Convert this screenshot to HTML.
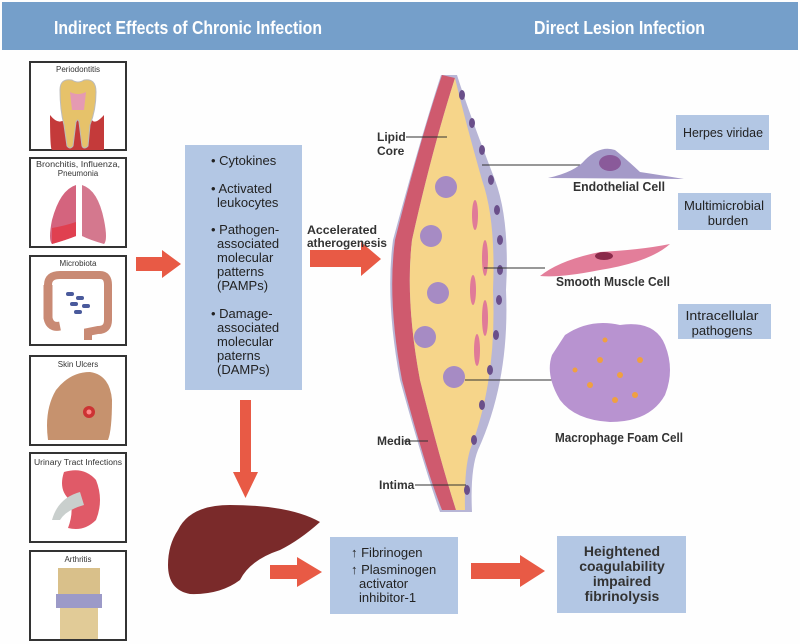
<!DOCTYPE html>
<html><head><meta charset="utf-8"><style>
html,body{margin:0;padding:0;background:#fefefe;}
svg{display:block;}
text{font-family:"Liberation Sans",sans-serif;}
</style></head><body>
<svg width="800" height="644" viewBox="0 0 800 644" xmlns="http://www.w3.org/2000/svg">
<rect x="0" y="0" width="800" height="644" fill="#fefefe"/>
<!-- header -->
<rect x="2" y="2" width="796" height="48" fill="#759fca"/>
<text x="54" y="34" font-size="18" font-weight="bold" fill="#fff" textLength="268" lengthAdjust="spacingAndGlyphs">Indirect Effects of Chronic Infection</text>
<text x="534" y="34" font-size="18" font-weight="bold" fill="#fff" textLength="171" lengthAdjust="spacingAndGlyphs">Direct Lesion Infection</text>

<!-- left boxes -->
<g stroke="#333" stroke-width="2" fill="#fff">
<rect x="30" y="62" width="96" height="88"/>
<rect x="30" y="158" width="96" height="89"/>
<rect x="30" y="256" width="96" height="89"/>
<rect x="30" y="356" width="96" height="89"/>
<rect x="30" y="453" width="96" height="89"/>
<rect x="30" y="551" width="96" height="89"/>
</g>
<g font-size="8" fill="#333" text-anchor="middle">
<text x="78" y="72">Periodontitis</text>
<text x="78" y="167" textLength="84" lengthAdjust="spacingAndGlyphs">Bronchitis, Influenza,</text>
<text x="78" y="176">Pneumonia</text>
<text x="78" y="266">Microbiota</text>
<text x="78" y="367">Skin Ulcers</text>
<text x="78" y="465" textLength="88" lengthAdjust="spacingAndGlyphs">Urinary Tract Infections</text>
<text x="78" y="562">Arthritis</text>
</g>
<!-- tooth -->
<path d="M50 115 Q50 150 52 150 L104 150 L104 115 Q95 125 92 120 L64 120 Q58 125 50 115Z" fill="#c43a3a"/>
<path d="M60 90 Q60 78 72 80 Q78 84 84 80 Q96 78 96 92 Q96 110 90 125 L88 146 Q84 150 82 146 L79 122 Q78 118 76 122 L73 146 Q70 150 67 146 L64 125 Q60 110 60 90Z" fill="#e6c26a" stroke="#bbb"/>
<path d="M70 92 Q78 96 86 92 L84 110 L72 110Z" fill="#e59ab2"/>
<!-- lungs -->
<path d="M76 185 Q60 190 52 220 Q48 240 52 244 Q66 240 76 236Z" fill="#d4647e"/>
<path d="M82 185 Q98 190 104 220 Q108 240 104 244 Q90 240 82 236Z" fill="#d4788e"/>
<path d="M52 228 Q64 226 76 222 L76 236 Q66 240 52 244Z" fill="#e04050"/>
<!-- colon -->
<path d="M48 285 Q48 275 60 275 L100 275 Q108 275 108 285 L108 320 Q108 330 98 330 L88 332 L88 340" fill="none" stroke="#c98a74" stroke-width="8"/>
<path d="M48 285 L48 318 Q50 328 60 326" fill="none" stroke="#c98a74" stroke-width="9"/>
<g fill="#4a5a9c"><rect x="66" y="292" width="8" height="4" rx="2"/><rect x="76" y="296" width="8" height="4" rx="2"/><rect x="70" y="302" width="8" height="4" rx="2"/><rect x="82" y="304" width="8" height="4" rx="2"/><rect x="74" y="310" width="8" height="4" rx="2"/></g>
<!-- foot -->
<path d="M48 440 Q44 410 56 390 Q70 372 90 372 Q110 375 112 400 Q112 430 108 440Z" fill="#c6926e"/>
<circle cx="89" cy="412" r="6" fill="#c33"/><circle cx="89" cy="412" r="2.5" fill="#f88"/>
<!-- kidney -->
<path d="M64 472 Q84 466 96 480 Q104 500 96 520 Q84 532 68 528 Q74 512 70 500 Q58 490 64 472Z" fill="#e05a68"/>
<path d="M52 520 Q58 498 80 492 L84 505 Q66 510 60 520Z" fill="#c9cfcd"/>
<!-- knee -->
<rect x="58" y="568" width="42" height="26" fill="#d9c08a"/>
<rect x="56" y="594" width="46" height="14" fill="#9c9ac8"/>
<rect x="60" y="608" width="38" height="31" fill="#e1cb97"/>

<!-- arrows -->
<g fill="#e85a45">
<polygon points="136,257 162,257 162,250 181,264 162,278 162,271 136,271"/>
<polygon points="240,400 251,400 251,472 258,472 245.5,498 233,472 240,472"/>
<polygon points="310,250 361,250 361,242 381,259 361,276 361,267 310,267"/>
<polygon points="270,565 297,565 297,557 322,572 297,587 297,579 270,579"/>
<polygon points="471,563 520,563 520,555 545,571 520,587 520,579 471,579"/>
</g>

<!-- middle box -->
<rect x="185" y="145" width="117" height="245" fill="#b3c7e4"/>
<g font-size="13" fill="#222">
<text x="211" y="165">• Cytokines</text>
<text x="211" y="193">• Activated</text><text x="217" y="207">leukocytes</text>
<text x="211" y="234">• Pathogen-</text><text x="217" y="248">associated</text><text x="217" y="262">molecular</text><text x="217" y="276">patterns</text><text x="217" y="290">(PAMPs)</text>
<text x="211" y="318">• Damage-</text><text x="217" y="332">associated</text><text x="217" y="346">molecular</text><text x="217" y="360">paterns</text><text x="217" y="374">(DAMPs)</text>
</g>

<!-- liver -->
<path d="M178 530 Q190 505 230 505 Q290 505 320 522 Q300 540 280 550 Q250 560 240 580 Q220 595 190 594 Q168 590 168 565 Q168 545 178 530Z" fill="#7a2a2a"/>

<!-- vessel -->
<path d="M441 75 Q420 140 393 240 Q385 300 400 380 Q425 470 440 512 L472 512 Q470 470 478 450 Q510 380 506 290 Q510 220 495 180 Q468 110 457 75Z" fill="#b8b6d6"/>
<path d="M442 75 Q420 140 395 240 Q387 300 402 380 Q426 470 442 510 L456 510 Q440 460 420 380 Q405 300 412 240 Q432 150 455 78Z" fill="#cf5a6e"/>
<path d="M455 78 Q432 150 412 240 Q405 300 420 380 Q440 460 456 510 L465 510 Q464 470 470 450 Q497 380 493 290 Q496 220 482 180 Q465 120 455 78Z" fill="#f6d58a"/>
<g fill="#6a4f8a">
<ellipse cx="462" cy="95" rx="3" ry="5"/><ellipse cx="472" cy="123" rx="3" ry="5"/><ellipse cx="482" cy="150" rx="3" ry="5"/><ellipse cx="491" cy="180" rx="3" ry="5"/><ellipse cx="497" cy="210" rx="3" ry="5"/><ellipse cx="500" cy="240" rx="3" ry="5"/><ellipse cx="500" cy="270" rx="3" ry="5"/><ellipse cx="499" cy="300" rx="3" ry="5"/><ellipse cx="496" cy="335" rx="3" ry="5"/><ellipse cx="490" cy="370" rx="3" ry="5"/><ellipse cx="482" cy="405" rx="3" ry="5"/><ellipse cx="474" cy="440" rx="3" ry="5"/><ellipse cx="467" cy="490" rx="3" ry="5"/>
</g>
<g fill="#a68bc4">
<circle cx="446" cy="187" r="11"/><circle cx="431" cy="236" r="11"/><circle cx="438" cy="293" r="11"/><circle cx="425" cy="337" r="11"/><circle cx="454" cy="377" r="11"/>
</g>
<g fill="#e07a98">
<ellipse cx="475" cy="215" rx="3" ry="15"/><ellipse cx="485" cy="258" rx="3" ry="18"/><ellipse cx="473" cy="290" rx="3" ry="15"/><ellipse cx="485" cy="318" rx="3" ry="18"/><ellipse cx="477" cy="350" rx="3" ry="16"/>
</g>
<g stroke="#333" stroke-width="1" fill="none">
<line x1="406" y1="137" x2="447" y2="137"/>
<line x1="482" y1="165" x2="600" y2="165"/>
<line x1="484" y1="268" x2="545" y2="268"/>
<line x1="465" y1="380" x2="560" y2="380"/>
<line x1="404" y1="441" x2="428" y2="441"/>
<line x1="415" y1="485" x2="466" y2="485"/>
</g>
<g font-size="12" font-weight="bold" fill="#333">
<text x="377" y="141">Lipid</text><text x="377" y="155">Core</text>
<text x="307" y="234" textLength="70" lengthAdjust="spacingAndGlyphs">Accelerated</text><text x="307" y="247" textLength="80" lengthAdjust="spacingAndGlyphs">atherogenesis</text>
<text x="377" y="445">Media</text>
<text x="379" y="489">Intima</text>
</g>

<!-- cells -->
<path d="M548 178 Q575 172 585 160 Q600 145 615 150 Q625 158 640 172 Q660 175 684 179Z" fill="#a49ac8"/>
<ellipse cx="610" cy="163" rx="11" ry="8" fill="#8a5a9a"/>
<path d="M540 276 Q560 260 600 252 Q640 250 670 244 Q650 262 600 270 Q560 278 540 276Z" fill="#e37e9a"/>
<ellipse cx="604" cy="256" rx="9" ry="4" fill="#8a2a4a"/>
<path d="M565 335 Q590 318 620 325 Q655 320 665 345 Q675 370 665 395 Q650 422 610 422 Q575 420 560 400 Q545 375 552 355Z" fill="#b893d0"/>
<g fill="#f0a040"><circle cx="600" cy="360" r="3"/><circle cx="620" cy="375" r="3"/><circle cx="590" cy="385" r="3"/><circle cx="640" cy="360" r="3"/><circle cx="615" cy="400" r="3"/><circle cx="635" cy="395" r="3"/><circle cx="575" cy="370" r="2.5"/><circle cx="605" cy="340" r="2.5"/></g>
<g font-size="12.5" font-weight="bold" fill="#333">
<text x="573" y="191" textLength="92" lengthAdjust="spacingAndGlyphs">Endothelial Cell</text>
<text x="556" y="286" textLength="114" lengthAdjust="spacingAndGlyphs">Smooth Muscle Cell</text>
<text x="555" y="442" textLength="128" lengthAdjust="spacingAndGlyphs">Macrophage Foam Cell</text>
</g>
<!-- right boxes -->
<g fill="#b3c7e4">
<rect x="676" y="115" width="93" height="35"/>
<rect x="678" y="193" width="93" height="37"/>
<rect x="678" y="304" width="93" height="35"/>
</g>
<g font-size="13" fill="#222" text-anchor="middle">
<text x="723" y="137" textLength="80" lengthAdjust="spacingAndGlyphs">Herpes viridae</text>
<text x="724" y="210" textLength="80" lengthAdjust="spacingAndGlyphs">Multimicrobial</text><text x="728" y="225">burden</text>
<text x="722" y="320" textLength="73" lengthAdjust="spacingAndGlyphs">Intracellular</text><text x="722" y="335">pathogens</text>
</g>

<!-- bottom boxes -->
<rect x="330" y="537" width="128" height="77" fill="#b3c7e4"/>
<g font-size="13" fill="#222">
<text x="351" y="557">↑ Fibrinogen</text>
<text x="351" y="574">↑ Plasminogen</text>
<text x="359" y="588">activator</text>
<text x="359" y="602">inhibitor-1</text>
</g>
<rect x="557" y="536" width="129" height="77" fill="#b3c7e4"/>
<g font-size="14" font-weight="bold" fill="#333" text-anchor="middle">
<text x="622" y="556">Heightened</text>
<text x="622" y="571">coagulability</text>
<text x="622" y="586">impaired</text>
<text x="622" y="601">fibrinolysis</text>
</g>
</svg>
</body></html>
